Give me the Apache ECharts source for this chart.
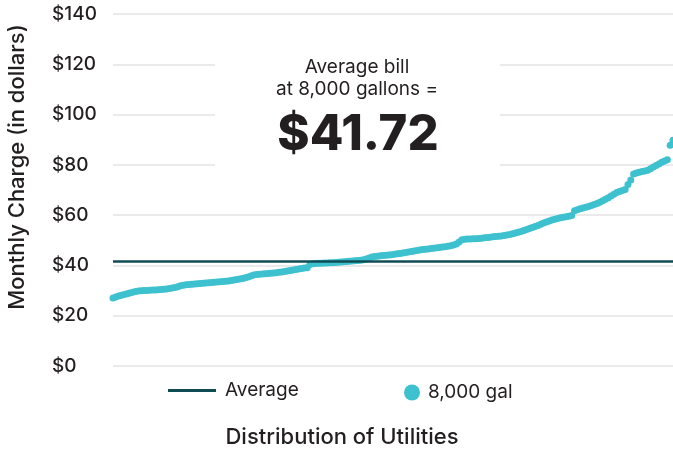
<!DOCTYPE html>
<html>
<head>
<meta charset="utf-8">
<script src="https://cdn.jsdelivr.net/npm/echarts@6/dist/echarts.min.js"></script>
<style>
  html, body { margin: 0; padding: 0; background: #fff; }
  #chart { width: 673px; height: 449px; }
</style>
</head>
<body>
<div id="chart"></div>
<script>
// monthly charge at 8,000 gal, utilities sorted low -> high
const charges = [
  27.0, 27.4, 27.8, 28.1, 28.4, 28.7, 29.0, 29.3, 29.6, 29.8,
  29.9, 30.0, 30.0, 30.1, 30.2, 30.2, 30.3, 30.4, 30.5, 30.6,
  30.8, 31.0, 31.2, 31.5, 31.9, 32.1, 32.3, 32.4, 32.5, 32.6,
  32.7, 32.8, 32.9, 33.0, 33.1, 33.2, 33.3, 33.4, 33.5, 33.6,
  33.7, 33.8, 34.0, 34.2, 34.4, 34.6, 34.8, 35.1, 35.4, 35.8,
  36.2, 36.4, 36.5, 36.6, 36.7, 36.8, 36.9, 37.0, 37.1, 37.3,
  37.4, 37.6, 37.8, 38.0, 38.2, 38.4, 38.6, 38.8, 39.0, 39.1,
  40.4, 40.7, 40.8, 40.9, 40.9, 41.0, 41.0, 41.1, 41.1, 41.2,
  41.3, 41.4, 41.5, 41.6, 41.7, 41.8, 41.9, 42.0, 42.1, 42.3,
  42.6, 43.0, 43.4, 43.6, 43.7, 43.8, 43.9, 44.0, 44.1, 44.2,
  44.4, 44.6, 44.7, 44.9, 45.1, 45.3, 45.5, 45.7, 45.9, 46.1,
  46.3, 46.4, 46.5, 46.7, 46.8, 47.0, 47.1, 47.3, 47.4, 47.6,
  47.8, 48.1, 48.5, 49.3, 50.2, 50.4, 50.5, 50.5, 50.6, 50.6,
  50.7, 50.8, 51.0, 51.1, 51.2, 51.4, 51.5, 51.6, 51.7, 51.9,
  52.1, 52.3, 52.6, 52.9, 53.2, 53.5, 53.9, 54.3, 54.7, 55.1,
  55.5, 55.9, 56.4, 56.9, 57.3, 57.7, 58.1, 58.4, 58.7, 59.0,
  59.2, 59.4, 59.6, 59.9, 61.7, 62.1, 62.5, 62.8, 63.1, 63.4,
  63.8, 64.2, 64.6, 65.1, 65.7, 66.3, 66.9, 67.6, 68.3, 69.0,
  69.4, 69.8, 70.2, 72.2, 74.0, 76.4, 76.8, 77.1, 77.4, 77.6,
  77.9, 78.5, 79.1, 79.7, 80.3, 81.0, 81.5, 82.0, 87.8, 89.8
];
const averageBill = 41.72;
const seriesNames = ["Average", "8,000 gal"];
const annotationLines = ["Average bill", "at 8,000 gallons =", "$41.72"];

const FONT = "Inter, 'Open Sans', sans-serif";
const TEXT = "#231f20";
const DOT = "#3ec1cf";
const AVG = "#0f4b55";

const chart = echarts.init(document.getElementById("chart"));

chart.setOption({
  animation: false,
  textStyle: { fontFamily: FONT },
  grid: { left: 113, right: 0, top: 14, bottom: 83 },
  xAxis: {
    type: "value", min: 0, max: charges.length - 1,
    show: false
  },
  yAxis: {
    type: "value", min: 0, max: 140, interval: 20,
    axisLine: { show: false }, axisTick: { show: false },
    axisLabel: {
      align: "left", margin: 61,
      color: TEXT, fontSize: 19, fontWeight: 500, fontFamily: FONT,
      formatter: v => "$" + v
    },
    splitLine: { lineStyle: { color: "#e3e3e3", width: 1.5 } }
  },
  legend: [
    {
      data: [{ name: seriesNames[0], icon: "rect" }],
      left: 168, top: 381, padding: 0,
      itemWidth: 48, itemHeight: 3,
      textStyle: { color: TEXT, fontSize: 19, fontFamily: FONT, padding: [0, 0, 0, 4] }
    },
    {
      data: [{ name: seriesNames[1], icon: "circle" }],
      left: 404, top: 383, padding: 0,
      itemWidth: 16, itemHeight: 16,
      textStyle: { color: TEXT, fontSize: 19, fontFamily: FONT, padding: [0, 0, 0, 3] }
    }
  ],
  graphic: [
    {
      type: "rect", z: 5,
      shape: { x: 215, y: 48, width: 285, height: 124 },
      style: { fill: "#fff" }
    },
    {
      type: "text", z: 6, x: 357, y: 67,
      style: { text: annotationLines[0], fill: TEXT, font: `400 19px ${FONT}`, textAlign: "center", textVerticalAlign: "middle" }
    },
    {
      type: "text", z: 6, x: 357, y: 89,
      style: { text: annotationLines[1], fill: TEXT, font: `400 19px ${FONT}`, textAlign: "center", textVerticalAlign: "middle" }
    },
    {
      type: "text", z: 6, x: 358, y: 135,
      style: { text: annotationLines[2], fill: TEXT, font: `800 49px ${FONT}`, textAlign: "center", textVerticalAlign: "middle" }
    },
    {
      type: "text", x: 17, y: 167, rotation: Math.PI / 2,
      style: { text: "Monthly Charge (in dollars)", fill: TEXT, font: `500 22px ${FONT}`, textAlign: "center", textVerticalAlign: "middle" }
    },
    {
      type: "text", x: 342, y: 437,
      style: { text: "Distribution of Utilities", fill: TEXT, font: `500 22px ${FONT}`, textAlign: "center", textVerticalAlign: "middle" }
    }
  ],
  series: [
    {
      name: seriesNames[0], type: "line", data: [],
      itemStyle: { color: AVG },
      markLine: {
        silent: true, symbol: "none", label: { show: false },
        lineStyle: { color: AVG, width: 2.5, type: "solid" },
        data: [{ yAxis: averageBill }]
      }
    },
    {
      name: seriesNames[1], type: "scatter",
      symbolSize: 7,
      itemStyle: { color: DOT, opacity: 1 },
      data: charges.map((v, i) => [i, v])
    }
  ]
});
</script>
</body>
</html>
